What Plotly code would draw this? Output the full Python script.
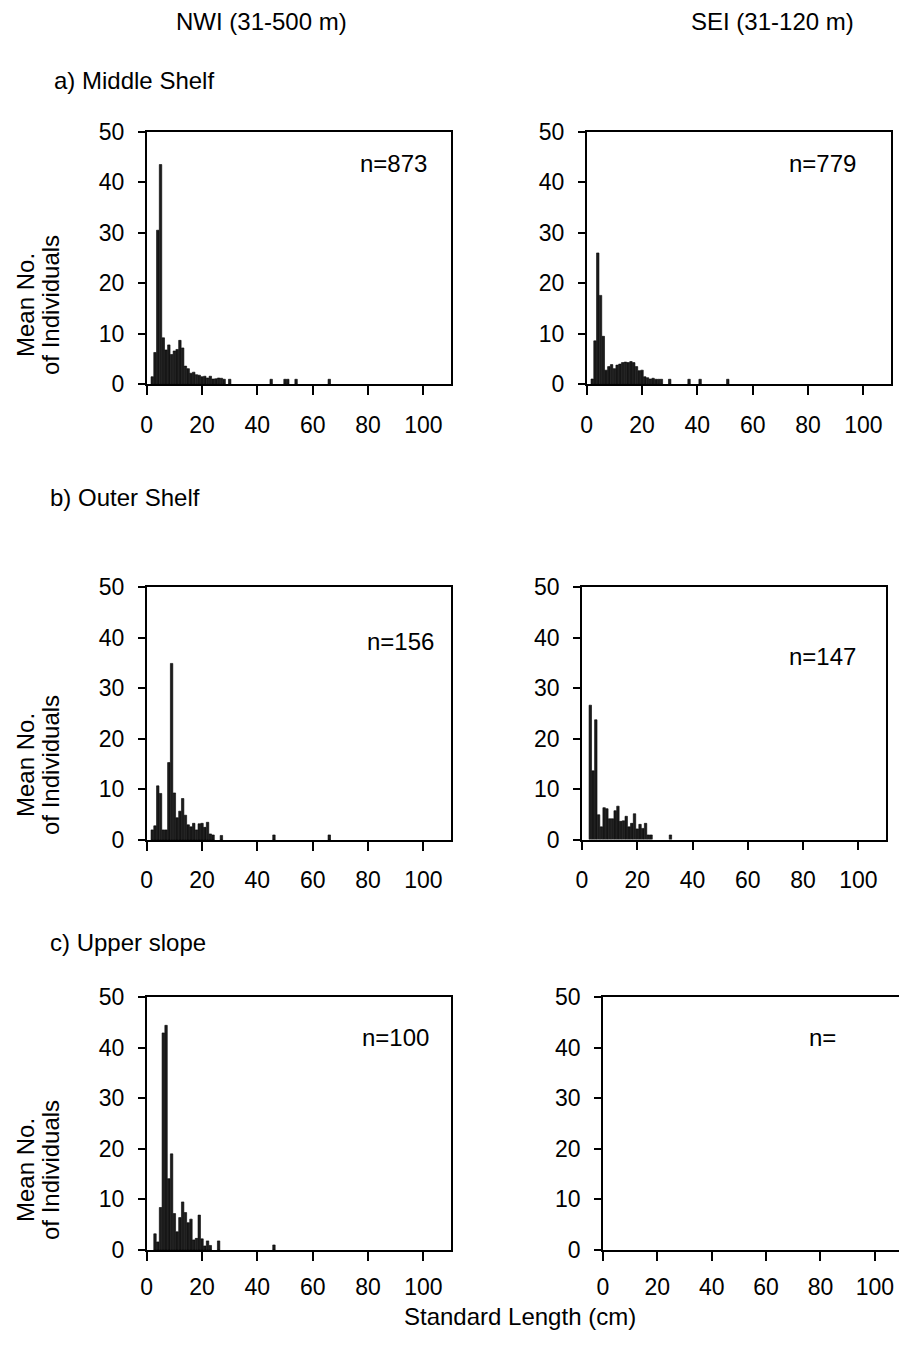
import plotly.graph_objects as go

W, H = 907, 1352

# ---------------- data ----------------
nwi_mid_len = [2, 3, 4, 5, 6, 7, 8, 9, 10, 11, 12, 13, 14, 15, 16, 17, 18, 19, 20, 21,
               22, 23, 24, 25, 26, 27, 28, 30, 45, 50, 51, 54, 66]
nwi_mid_val = [1.5, 6.3, 30.5, 43.5, 9.2, 6.8, 7.8, 5.9, 6.6, 6.9, 8.7, 7.2, 3.6, 3.1, 2.2,
               2.4, 1.9, 1.8, 1.5, 1.6, 1.25, 1.6, 1.05, 1.1, 1.25, 1.2, 1.0, 1.0, 1.0, 1.0,
               1.0, 1.0, 1.0]

sei_mid_len = [2, 3, 4, 5, 6, 7, 8, 9, 10, 11, 12, 13, 14, 15, 16, 17, 18, 19, 20, 21,
               22, 23, 24, 25, 26, 27, 30, 37, 41, 51]
sei_mid_val = [1.05, 8.6, 26.0, 17.6, 9.5, 2.8, 3.5, 3.9, 3.1, 3.8, 4.0, 4.3, 4.4, 4.3, 4.5,
               4.3, 3.5, 2.7, 2.8, 1.5, 1.3, 1.05, 1.2, 1.0, 1.0, 1.0, 1.0, 1.0, 1.0, 1.0]

nwi_out_len = [2, 3, 4, 5, 6, 7, 8, 9, 10, 11, 12, 13, 14, 15, 16, 17, 18, 19, 20, 21,
               22, 23, 24, 27, 46, 66]
nwi_out_val = [2.0, 2.8, 10.7, 9.2, 2.0, 2.0, 15.3, 34.9, 9.3, 4.4, 5.7, 8.2, 4.9, 3.0, 2.6,
               3.3, 2.0, 3.2, 3.3, 2.5, 3.5, 1.2, 1.0, 0.9, 1.0, 1.0]

sei_out_len = [3, 4, 5, 6, 7, 8, 9, 10, 11, 12, 13, 14, 15, 16, 17, 18, 19, 20, 21, 22,
               23, 24, 25, 32]
sei_out_val = [26.6, 13.6, 23.7, 4.9, 2.5, 6.3, 6.1, 4.1, 4.1, 5.7, 6.6, 3.6, 3.7, 4.6, 2.5,
               3.2, 5.1, 2.1, 3.0, 2.2, 3.2, 0.9, 0.9, 0.9]

nwi_up_len = [3, 4, 5, 6, 7, 8, 9, 10, 11, 12, 13, 14, 15, 16, 17, 18, 19, 20, 21, 22,
              23, 26, 46]
nwi_up_val = [3.2, 1.6, 8.4, 42.9, 44.4, 14.1, 19.0, 7.2, 3.6, 6.4, 9.5, 7.4, 5.4, 6.1, 2.0,
              2.3, 6.9, 2.2, 0.8, 1.8, 0.9, 1.8, 1.0]

sei_up_len = []
sei_up_val = []

n_labels = ["n=873", "n=779", "n=156", "n=147", "n=100", "n="]
col_titles = ["NWI (31-500 m)", "SEI (31-120 m)"]
row_titles = ["a) Middle Shelf", "b) Outer Shelf", "c) Upper slope"]
x_ticks = [0, 20, 40, 60, 80, 100]
y_ticks = [0, 10, 20, 30, 40, 50]

# ---------------- layout helpers ----------------
OFF = 8  # default page (body) margin of the html page

def px_x(x):
    return (x - OFF) / W

def px_y(y):
    return 1 - (y - OFF) / H

FONT = "Liberation Sans, Arial, sans-serif"
FS = 23
FT = 24

# panel boxes in screen pixels: (x0, x1, ytop, ybottom)
panels = [
    (146.7, 451, 131.7, 384.3),
    (586.7, 891, 131.7, 384.3),
    (146.7, 451, 587.0, 840.0),
    (582.0, 886, 587.0, 839.5),
    (146.7, 451, 997.0, 1250.0),
    (603.0, 902, 997.0, 1250.0),
]
series = [
    (nwi_mid_len, nwi_mid_val),
    (sei_mid_len, sei_mid_val),
    (nwi_out_len, nwi_out_val),
    (sei_out_len, sei_out_val),
    (nwi_up_len, nwi_up_val),
    (sei_up_len, sei_up_val),
]
n_pos = [(393, 163), (822, 163), (400, 641), (822, 656), (395, 1037), (822, 1037)]
x_standoff = [10, 10, 10, 10, 7, 7]

fig = go.Figure()
layout = dict(
    width=W, height=H,
    margin=dict(l=0, r=0, t=0, b=0, autoexpand=False),
    paper_bgcolor="white", plot_bgcolor="white",
    showlegend=False,
    font=dict(family=FONT, size=FS, color="black"),
    bargap=0.1,
)
annotations = []

for i, ((x0, x1, yt, yb), (lens, vals)) in enumerate(zip(panels, series)):
    k = i + 1
    xa = "x" if k == 1 else f"x{k}"
    ya = "y" if k == 1 else f"y{k}"
    fig.add_trace(go.Bar(
        x=lens, y=vals, xaxis=xa, yaxis=ya, width=0.88,
        marker=dict(color="#1c1c1c", line=dict(color="black", width=0.6)),
    ))
    axcommon = dict(
        showline=True, linecolor="black", linewidth=1.5, mirror=True,
        ticks="outside", tickcolor="black", tickwidth=1.5,
        showgrid=False, zeroline=False, automargin=False,
        tickfont=dict(family=FONT, size=FS, color="black"),
    )
    layout["xaxis" if k == 1 else f"xaxis{k}"] = dict(
        axcommon, domain=[px_x(x0), px_x(x1)], range=[0, 110],
        tickvals=x_ticks, ticklen=9, anchor=ya, ticklabelstandoff=x_standoff[i],
    )
    layout["yaxis" if k == 1 else f"yaxis{k}"] = dict(
        axcommon, domain=[px_y(yb), px_y(yt)], range=[0, 50],
        tickvals=y_ticks, ticklen=7, anchor=xa, ticklabelstandoff=9,
    )
    nx, ny = n_pos[i]
    annotations.append(dict(
        text=n_labels[i], x=px_x(nx), y=px_y(ny), xref="paper", yref="paper",
        xanchor="center", yanchor="middle", showarrow=False,
        font=dict(family=FONT, size=FT, color="black"),
    ))

# column headers
for txt, cx in zip(col_titles, [261, 772]):
    annotations.append(dict(
        text=txt, x=px_x(cx), y=px_y(22), xref="paper", yref="paper",
        xanchor="center", yanchor="middle", showarrow=False,
        font=dict(family=FONT, size=FT, color="black"),
    ))

# row titles
for txt, (lx, ly) in zip(row_titles, [(52, 80), (48, 497), (48, 943)]):
    annotations.append(dict(
        text=txt, x=px_x(lx), y=px_y(ly), xref="paper", yref="paper",
        xanchor="left", yanchor="middle", showarrow=False,
        font=dict(family=FONT, size=FT, color="black"),
    ))

# y-axis titles
for cy in [305, 765, 1170]:
    for txt, lx in [("Mean No.", 25), ("of Individuals", 50)]:
        annotations.append(dict(
            text=txt, x=px_x(lx), y=px_y(cy), xref="paper", yref="paper",
            xanchor="center", yanchor="middle", showarrow=False, textangle=-90,
            font=dict(family=FONT, size=FT, color="black"),
        ))

# x-axis title
annotations.append(dict(
    text="Standard Length (cm)", x=px_x(520), y=px_y(1316), xref="paper", yref="paper",
    xanchor="center", yanchor="middle", showarrow=False,
    font=dict(family=FONT, size=FT, color="black"),
))

layout["annotations"] = annotations
fig.update_layout(**layout)
fig.write_html("out.html")
